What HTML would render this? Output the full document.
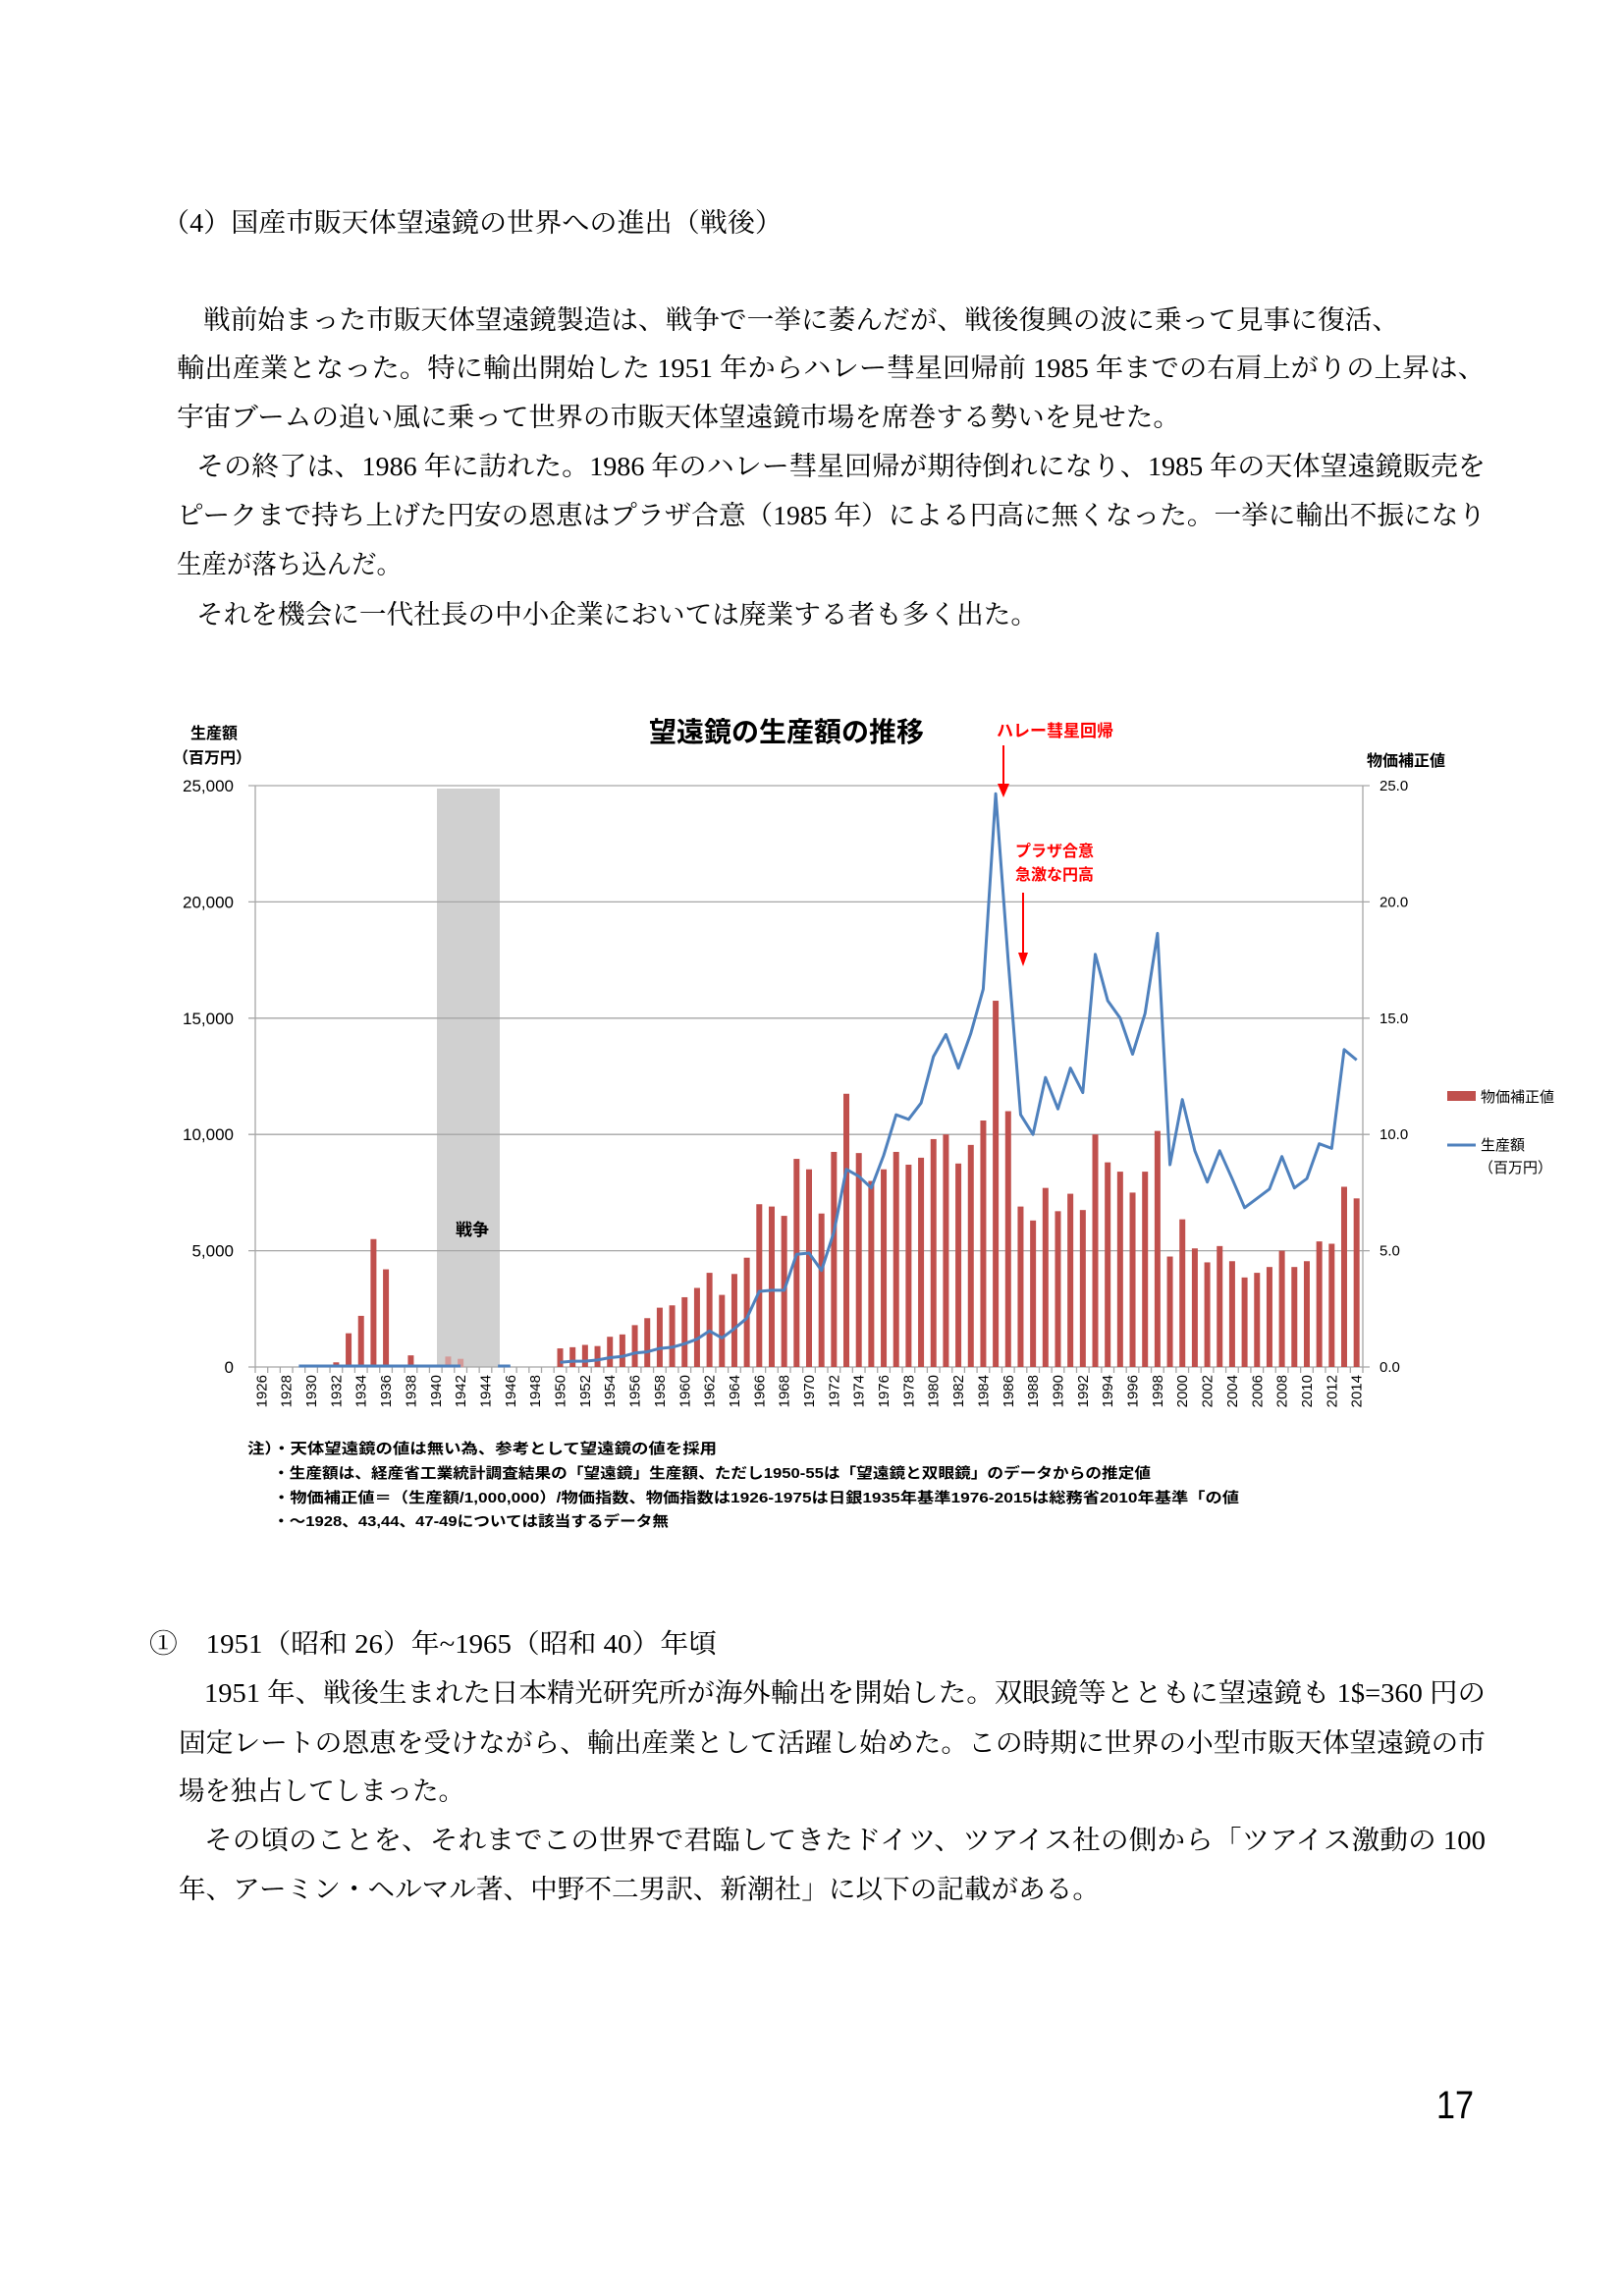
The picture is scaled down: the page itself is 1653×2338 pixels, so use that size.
<!DOCTYPE html>
<html><head><meta charset="utf-8">
<style>
html,body{margin:0;padding:0;background:#fff;}
svg{display:block;}
.s{font-family:"Liberation Serif","Noto Serif CJK JP",serif;font-size:27px;fill:#000;}
.g{font-family:"Liberation Sans","Noto Sans CJK JP",sans-serif;fill:#000;}
</style></head>
<body>
<svg id="c" width="1653" height="2338" xmlns="http://www.w3.org/2000/svg">
<rect width="1653" height="2338" fill="#fff"/>
<text class="s" x="165" y="236" textLength="632" lengthAdjust="spacingAndGlyphs">（4）国産市販天体望遠鏡の世界への進出（戦後）</text>
<text class="s" x="207" y="335" textLength="1218" lengthAdjust="spacingAndGlyphs">戦前始まった市販天体望遠鏡製造は、戦争で一挙に萎んだが、戦後復興の波に乗って見事に復活、</text>
<text class="s" x="180" y="384" textLength="1333" lengthAdjust="spacingAndGlyphs">輸出産業となった。特に輸出開始した 1951 年からハレー彗星回帰前 1985 年までの右肩上がりの上昇は、</text>
<text class="s" x="180" y="434" textLength="1022" lengthAdjust="spacingAndGlyphs">宇宙ブームの追い風に乗って世界の市販天体望遠鏡市場を席巻する勢いを見せた。</text>
<text class="s" x="200" y="484" textLength="1313" lengthAdjust="spacingAndGlyphs">その終了は、1986 年に訪れた。1986 年のハレー彗星回帰が期待倒れになり、1985 年の天体望遠鏡販売を</text>
<text class="s" x="180" y="534" textLength="1333" lengthAdjust="spacingAndGlyphs">ピークまで持ち上げた円安の恩恵はプラザ合意（1985 年）による円高に無くなった。一挙に輸出不振になり</text>
<text class="s" x="180" y="584" textLength="229" lengthAdjust="spacingAndGlyphs">生産が落ち込んだ。</text>
<text class="s" x="200" y="635" textLength="857" lengthAdjust="spacingAndGlyphs">それを機会に一代社長の中小企業においては廃業する者も多く出た。</text>

<text class="s" x="152" y="1683" textLength="578" lengthAdjust="spacingAndGlyphs">①　1951（昭和 26）年~1965（昭和 40）年頃</text>
<text class="s" x="208" y="1733" textLength="1305" lengthAdjust="spacingAndGlyphs">1951 年、戦後生まれた日本精光研究所が海外輸出を開始した。双眼鏡等とともに望遠鏡も 1$=360 円の</text>
<text class="s" x="182" y="1784" textLength="1331" lengthAdjust="spacingAndGlyphs">固定レートの恩恵を受けながら、輸出産業として活躍し始めた。この時期に世界の小型市販天体望遠鏡の市</text>
<text class="s" x="182" y="1833" textLength="291" lengthAdjust="spacingAndGlyphs">場を独占してしまった。</text>
<text class="s" x="208" y="1883" textLength="1305" lengthAdjust="spacingAndGlyphs">その頃のことを、それまでこの世界で君臨してきたドイツ、ツアイス社の側から「ツアイス激動の 100</text>
<text class="s" x="182" y="1933" textLength="938" lengthAdjust="spacingAndGlyphs">年、アーミン・ヘルマル著、中野不二男訳、新潮社」に以下の記載がある。</text>
<text class="g" x="1463" y="2157" font-size="40" textLength="38" lengthAdjust="spacingAndGlyphs">17</text>
<g id="chart"></g>
</svg>
<script>
(function(){
var ns="http://www.w3.org/2000/svg",g=document.getElementById("chart");
function el(t,a,txt){var e=document.createElementNS(ns,t);for(var k in a)e.setAttribute(k,a[k]);if(txt!=null)e.textContent=txt;g.appendChild(e);return e;}
var L=260,R=1388,T=800,Z=1392,sl=(R-L)/89;
function Y(v){return Z-v*(Z-T)/25;}
function X(y){return L+(y-1926+0.5)*sl;}
el("rect",{x:445,y:803,width:64,height:Z-803,fill:"#D0D0D0"});
for(var i=0;i<=5;i++){var y=Y(i*5);
 el("line",{x1:253,x2:1395,y1:y,y2:y,stroke:"#A6A6A6","stroke-width":1.3});
 el("text",{x:238,y:y+6,"text-anchor":"end","font-size":17,class:"g"},i==0?"0":(i*5)+",000");
 el("text",{x:1405,y:y+5,"font-size":15,class:"g"},(i*5)+".0");
}
el("line",{x1:L,x2:L,y1:T,y2:Z,stroke:"#A6A6A6","stroke-width":1.3});
el("line",{x1:R,x2:R,y1:T,y2:Z,stroke:"#A6A6A6","stroke-width":1.3});
for(var i=0;i<=89;i++){var x=L+i*sl;el("line",{x1:x,x2:x,y1:Z,y2:Z+6,stroke:"#A6A6A6","stroke-width":1.3});}
for(var yr=1926;yr<=2014;yr+=2){var x=X(yr)+5;el("text",{x:0,y:0,"font-size":15,class:"g","text-anchor":"end",transform:"translate("+x+","+(Z+8)+") rotate(-90)"},yr);}
var bars={1932:.2,1933:1.45,1934:2.2,1935:5.5,1936:4.2,1937:.05,1938:.5,1939:.1,1940:.05,1941:.45,1942:.35,1950:.8,1951:.85,1952:.95,1953:.9,1954:1.3,1955:1.4,1956:1.8,1957:2.1,1958:2.55,1959:2.65,1960:3.0,1961:3.4,1962:4.05,1963:3.1,1964:4.0,1965:4.7,1966:7.0,1967:6.9,1968:6.5,1969:8.95,1970:8.5,1971:6.6,1972:9.25,1973:11.75,1974:9.2,1975:8.0,1976:8.5,1977:9.25,1978:8.7,1979:9.0,1980:9.8,1981:10.0,1982:8.75,1983:9.55,1984:10.6,1985:15.75,1986:11.0,1987:6.9,1988:6.3,1989:7.7,1990:6.7,1991:7.45,1992:6.75,1993:10.0,1994:8.8,1995:8.4,1996:7.5,1997:8.4,1998:10.15,1999:4.75,2000:6.35,2001:5.1,2002:4.5,2003:5.2,2004:4.55,2005:3.85,2006:4.05,2007:4.3,2008:5.0,2009:4.3,2010:4.55,2011:5.4,2012:5.3,2013:7.75,2014:7.25};
for(var k in bars){var yr=+k,v=bars[k];var c=(yr==1941||yr==1942)?"#D49A98":"#C0504D";el("rect",{x:X(yr)-3,y:Y(v),width:6,height:Z-Y(v),fill:c});}
var ln={1950:.2,1951:.25,1952:.25,1953:.3,1954:.4,1955:.45,1956:.6,1957:.65,1958:.8,1959:.85,1960:1.0,1961:1.2,1962:1.55,1963:1.25,1964:1.65,1965:2.1,1966:3.25,1967:3.3,1968:3.3,1969:4.85,1970:4.9,1971:4.15,1972:5.8,1973:8.5,1974:8.2,1975:7.7,1976:9.1,1977:10.85,1978:10.65,1979:11.35,1980:13.35,1981:14.3,1982:12.85,1983:14.35,1984:16.25,1985:24.65,1986:17.5,1987:10.85,1988:10.0,1989:12.45,1990:11.1,1991:12.85,1992:11.8,1993:17.75,1994:15.75,1995:15.0,1996:13.45,1997:15.2,1998:18.65,1999:8.7,2000:11.5,2001:9.3,2002:7.95,2003:9.3,2004:8.1,2005:6.85,2006:7.25,2007:7.65,2008:9.05,2009:7.7,2010:8.1,2011:9.6,2012:9.4,2013:13.65,2014:13.2};
var p=[];for(var k in ln)p.push(X(+k).toFixed(1)+","+Y(ln[k]).toFixed(1));
el("polyline",{points:p.join(" "),fill:"none",stroke:"#4F81BD","stroke-width":3,"stroke-linejoin":"round"});
el("line",{x1:X(1929),x2:X(1942),y1:Z-1,y2:Z-1,stroke:"#4F81BD","stroke-width":3});
el("line",{x1:X(1945),x2:X(1946),y1:Z-1,y2:Z-1,stroke:"#4F81BD","stroke-width":3});
el("text",{x:801,y:755,"text-anchor":"middle","font-size":28,"font-weight":"bold",class:"g"},"望遠鏡の生産額の推移");
el("text",{x:218,y:752,"text-anchor":"middle","font-size":16,"font-weight":"bold",class:"g"},"生産額");
el("text",{x:216,y:777,"text-anchor":"middle","font-size":16,"font-weight":"bold",class:"g"},"（百万円）");
el("text",{x:1432,y:780,"text-anchor":"middle","font-size":16,"font-weight":"bold",class:"g"},"物価補正値");
el("text",{x:481,y:1258,"text-anchor":"middle","font-size":17,"font-weight":"bold",class:"g"},"戦争");
el("text",{x:1015,y:750,"font-size":17,"font-weight":"bold",style:"fill:#f00",class:"g"},"ハレー彗星回帰");
el("line",{x1:1022,x2:1022,y1:759,y2:800,stroke:"#f00","stroke-width":2});
el("polygon",{points:"1016,798 1028,798 1022,812",fill:"#f00"});
el("text",{x:1034,y:872,"font-size":16,"font-weight":"bold",style:"fill:#f00",class:"g"},"プラザ合意");
el("text",{x:1034,y:896,"font-size":16,"font-weight":"bold",style:"fill:#f00",class:"g"},"急激な円高");
el("line",{x1:1042,x2:1042,y1:909,y2:972,stroke:"#f00","stroke-width":2});
el("polygon",{points:"1037,970 1047,970 1042,984",fill:"#f00"});
el("rect",{x:1474,y:1111,width:29,height:10,fill:"#C0504D"});
el("text",{x:1508,y:1122,"font-size":15,class:"g"},"物価補正値");
el("line",{x1:1474,x2:1503,y1:1166,y2:1166,stroke:"#4F81BD","stroke-width":3});
el("text",{x:1508,y:1171,"font-size":15,class:"g"},"生産額");
el("text",{x:1506,y:1194,"font-size":15,class:"g"},"（百万円）");
var n=[[252,1488,478,"注）・天体望遠鏡の値は無い為、参考として望遠鏡の値を採用"],[278,1513,894,"・生産額は、経産省工業統計調査結果の「望遠鏡」生産額、ただし1950-55は「望遠鏡と双眼鏡」のデータからの推定値"],[278,1538,984,"・物価補正値＝（生産額/1,000,000）/物価指数、物価指数は1926-1975は日銀1935年基準1976-2015は総務省2010年基準「の値"],[278,1562,403,"・～1928、43,44、47-49については該当するデータ無"]];
n.forEach(function(a){el("text",{x:a[0],y:a[1]-8,"font-size":15,"font-weight":"bold",textLength:a[2],lengthAdjust:"spacingAndGlyphs",class:"g"},a[3]);});
})();
</script>
</body></html>
